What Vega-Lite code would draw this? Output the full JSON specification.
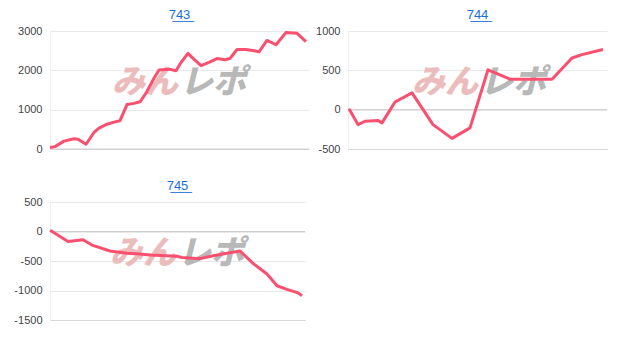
{
  "$schema": "https://vega.github.io/schema/vega-lite/v6.json",
  "background": "white",
  "padding": {"top": 9, "left": 5, "right": 5, "bottom": 5},
  "datasets": {
    "d743": [
      {"x": 0, "y": 40}, {"x": 5, "y": 60}, {"x": 14, "y": 200}, {"x": 24, "y": 260}, {"x": 28, "y": 250},
      {"x": 36, "y": 120}, {"x": 44, "y": 420}, {"x": 49, "y": 530}, {"x": 57, "y": 630}, {"x": 65, "y": 690},
      {"x": 70, "y": 720}, {"x": 77, "y": 1130}, {"x": 84, "y": 1160}, {"x": 90, "y": 1200}, {"x": 96, "y": 1420},
      {"x": 104, "y": 1800}, {"x": 109, "y": 2010}, {"x": 119, "y": 2030}, {"x": 126, "y": 1990}, {"x": 131, "y": 2200},
      {"x": 138, "y": 2430}, {"x": 142, "y": 2330}, {"x": 151, "y": 2120}, {"x": 159, "y": 2200}, {"x": 167, "y": 2300},
      {"x": 175, "y": 2270}, {"x": 180, "y": 2300}, {"x": 187, "y": 2530}, {"x": 196, "y": 2530}, {"x": 204, "y": 2500},
      {"x": 209, "y": 2470}, {"x": 217, "y": 2760}, {"x": 226, "y": 2650}, {"x": 236, "y": 2960}, {"x": 247, "y": 2940},
      {"x": 256, "y": 2730}
    ],
    "d744": [
      {"x": 1, "y": 13}, {"x": 10, "y": -190}, {"x": 17, "y": -147}, {"x": 30, "y": -138}, {"x": 34, "y": -168},
      {"x": 47, "y": 98}, {"x": 64, "y": 214}, {"x": 85, "y": -190}, {"x": 104, "y": -365}, {"x": 122, "y": -232},
      {"x": 140, "y": 507}, {"x": 162, "y": 387}, {"x": 204, "y": 387}, {"x": 224, "y": 657}, {"x": 234, "y": 700},
      {"x": 255, "y": 764}
    ],
    "d745": [
      {"x": 0, "y": 20}, {"x": 18, "y": -170}, {"x": 33, "y": -140}, {"x": 42, "y": -230}, {"x": 60, "y": -330},
      {"x": 77, "y": -370}, {"x": 90, "y": -380}, {"x": 100, "y": -400}, {"x": 127, "y": -420}, {"x": 132, "y": -440},
      {"x": 150, "y": -460}, {"x": 163, "y": -410}, {"x": 190, "y": -330}, {"x": 203, "y": -540}, {"x": 217, "y": -720},
      {"x": 227, "y": -920}, {"x": 237, "y": -980}, {"x": 248, "y": -1040}, {"x": 252, "y": -1090}
    ]
  },
  "vconcat": [
    {
      "hconcat": [
        {
          "width": 259, "height": 118,
          "title": "7̲4̲3̲",
          "encoding": {
            "x": {"type": "quantitative", "scale": {"domain": [0, 259], "nice": false}, "axis": {"labels": false, "ticks": false, "grid": false, "domainColor": "#d8d8d8", "title": null}},
            "y": {"type": "quantitative", "scale": {"domain": [0, 3000], "nice": false}, "axis": {"values": [0, 1000, 2000, 3000], "tickCount": 20, "labelExpr": "'' + datum.value", "grid": true, "labelOverlap": false, "minExtent": 41, "maxExtent": 41, "title": null}}
          },
          "layer": [
            {"data": {"values": [{}]}, "mark": {"type": "text", "text": "みん", "align": "right", "baseline": "middle", "dx": -1, "font": "Noto Sans CJK JP", "fontSize": 33, "fontWeight": 900, "fontStyle": "italic", "color": "#ecbcbc"},
             "encoding": {"x": {"datum": 129}, "y": {"datum": 1690}}},
            {"data": {"values": [{}]}, "mark": {"type": "text", "text": "レポ", "align": "left", "baseline": "middle", "dx": 1, "font": "Noto Sans CJK JP", "fontSize": 33, "fontWeight": 900, "fontStyle": "italic", "color": "#b8b8b8"},
             "encoding": {"x": {"datum": 129}, "y": {"datum": 1690}}},
            {"data": {"values": [{}]}, "mark": {"type": "rule", "color": "#cccccc"}, "encoding": {"y": {"datum": 0}}},
            {"data": {"name": "d743"}, "mark": {"type": "line", "color": "#fb4f6f", "strokeWidth": 3, "strokeJoin": "round"},
             "encoding": {"x": {"field": "x"}, "y": {"field": "y"}}}
          ]
        },
        {
          "width": 259, "height": 118,
          "title": "7̲4̲4̲",
          "encoding": {
            "x": {"type": "quantitative", "scale": {"domain": [0, 259], "nice": false}, "axis": {"labels": false, "ticks": false, "grid": false, "domainColor": "#d8d8d8", "title": null}},
            "y": {"type": "quantitative", "scale": {"domain": [-500, 1000], "nice": false}, "axis": {"values": [-500, 0, 500, 1000], "tickCount": 20, "labelExpr": "'' + datum.value", "grid": true, "labelOverlap": false, "minExtent": 38, "maxExtent": 38, "title": null}}
          },
          "layer": [
            {"data": {"values": [{}]}, "mark": {"type": "text", "text": "みん", "align": "right", "baseline": "middle", "dx": -1, "font": "Noto Sans CJK JP", "fontSize": 33, "fontWeight": 900, "fontStyle": "italic", "color": "#ecbcbc"},
             "encoding": {"x": {"datum": 131}, "y": {"datum": 345}}},
            {"data": {"values": [{}]}, "mark": {"type": "text", "text": "レポ", "align": "left", "baseline": "middle", "dx": 1, "font": "Noto Sans CJK JP", "fontSize": 33, "fontWeight": 900, "fontStyle": "italic", "color": "#b8b8b8"},
             "encoding": {"x": {"datum": 131}, "y": {"datum": 345}}},
            {"data": {"values": [{}]}, "mark": {"type": "rule", "color": "#cccccc"}, "encoding": {"y": {"datum": 0}}},
            {"data": {"name": "d744"}, "mark": {"type": "line", "color": "#fb4f6f", "strokeWidth": 3, "strokeJoin": "round"},
             "encoding": {"x": {"field": "x"}, "y": {"field": "y"}}}
          ]
        }
      ],
      "spacing": 0
    },
    {
      "width": 255, "height": 118,
      "title": "7̲4̲5̲",
      "encoding": {
        "x": {"type": "quantitative", "scale": {"domain": [0, 255], "nice": false}, "axis": {"labels": false, "ticks": false, "grid": false, "domainColor": "#d8d8d8", "title": null}},
        "y": {"type": "quantitative", "scale": {"domain": [-1500, 500], "nice": false}, "axis": {"values": [-1500, -1000, -500, 0, 500], "tickCount": 20, "labelExpr": "'' + datum.value", "grid": true, "labelOverlap": false, "minExtent": 45, "maxExtent": 45, "title": null}}
      },
      "layer": [
        {"data": {"values": [{}]}, "mark": {"type": "text", "text": "みん", "align": "right", "baseline": "middle", "dx": -1, "font": "Noto Sans CJK JP", "fontSize": 33, "fontWeight": 900, "fontStyle": "italic", "color": "#ecbcbc"},
         "encoding": {"x": {"datum": 127}, "y": {"datum": -385}}},
        {"data": {"values": [{}]}, "mark": {"type": "text", "text": "レポ", "align": "left", "baseline": "middle", "dx": 1, "font": "Noto Sans CJK JP", "fontSize": 33, "fontWeight": 900, "fontStyle": "italic", "color": "#b8b8b8"},
         "encoding": {"x": {"datum": 127}, "y": {"datum": -385}}},
        {"data": {"values": [{}]}, "mark": {"type": "rule", "color": "#cccccc"}, "encoding": {"y": {"datum": 0}}},
        {"data": {"name": "d745"}, "mark": {"type": "line", "color": "#fb4f6f", "strokeWidth": 3, "strokeJoin": "round"},
         "encoding": {"x": {"field": "x"}, "y": {"field": "y"}}}
      ]
    }
  ],
  "spacing": 26,
  "config": {
    "font": "Liberation Sans",
    "view": {"stroke": null},
    "title": {"fontSize": 13, "fontWeight": "normal", "color": "#1a6fd6", "font": "Liberation Sans", "anchor": "middle", "offset": 3},
    "axisY": {"labelColor": "#444444", "labelFontSize": 11, "labelFont": "Liberation Sans", "ticks": false, "labelPadding": 8, "domain": true, "domainColor": "#eeeeee", "gridColor": "#e9e9e9", "labelFlush": false}
  }
}
